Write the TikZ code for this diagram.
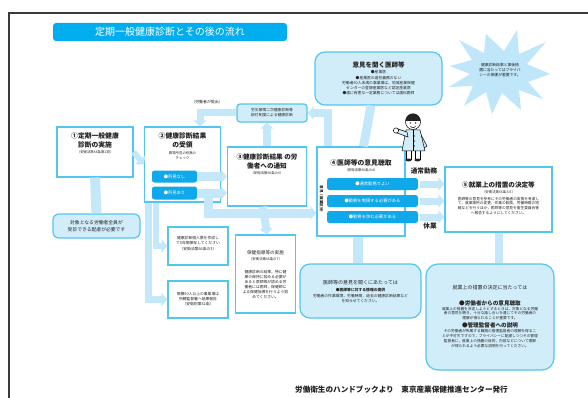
\documentclass[tikz,border=0pt]{standalone}
\usepackage{fontspec}
\setmainfont{Noto Sans CJK JP}
\usetikzlibrary{arrows.meta}
\definecolor{titlec}{HTML}{00AEEF}
\definecolor{btnc}{HTML}{0FA8EA}
\definecolor{edgec}{HTML}{52C5F1}
\definecolor{paleb}{HTML}{D2EDFA}
\definecolor{flowc}{HTML}{C4E8F9}
\definecolor{starc}{HTML}{BFE6F9}
\definecolor{framec}{HTML}{3A3A3A}
\definecolor{inkc}{HTML}{222222}
\begin{document}
\begin{tikzpicture}[x=1pt,y=-1pt,
  text=inkc,
  box/.style={draw=edgec,line width=1.1pt,fill=white,inner sep=0pt},
  pale/.style={draw=edgec,line width=1.2pt,fill=paleb,rounded corners=#1,inner sep=0pt},
  pale/.default=7pt,
  btn/.style={fill=btnc,rounded corners=2.5pt,text=white,inner sep=0pt,
    font=\fontsize{4.3}{5}\selectfont},
  flow/.style={draw=flowc,line width=#1,-{Triangle[width=13pt,length=6pt]}},
  flow/.default=7pt,
  bar/.style={draw=flowc,line width=#1},
  bar/.default=8pt,
  head/.style={font=\bfseries\fontsize{6.8}{8.8}\selectfont,align=center,inner sep=0pt},
  law/.style={font=\fontsize{3.4}{4.4}\selectfont,align=center,inner sep=0pt},
  small/.style={font=\fontsize{3.8}{5.1}\selectfont,align=center,inner sep=0pt},
  mid/.style={font=\fontsize{5}{6}\selectfont,align=center,inner sep=0pt},
  tag/.style={font=\bfseries\fontsize{6.6}{8}\selectfont,inner sep=0pt},
]
\useasboundingbox (0,0) rectangle (588,398);

% page frame
\draw[framec,line width=1.6pt] (9,402) -- (9,13) -- (592,13);

% title bar
\node[fill=titlec,rounded corners=3pt,minimum width=234,minimum height=18,inner sep=0pt,
  text=white,font=\fontsize{10}{12}\selectfont] (title) at (170,32) {定期一般健康診断とその後の流れ};

% privacy burst: irregular spikes round an ellipse
\fill[starc] (550,74) -- (527,64) -- (546,42) -- (519,54) -- (517,30) -- (504,51)
  -- (486,34) -- (484,53) -- (459,40) -- (472,60) -- (450,66) -- (470,74)
  -- (449,87) -- (473,86) -- (464,106) -- (486,92) -- (492,114) -- (502,93)
  -- (521,110) -- (519,90) -- (543,99) -- (528,82) -- cycle;
\node[small] (burst) at (500,70) {健康診断結果と事後措\\置に当たってはプライバ\\シーの保護が重要です。};

% boxes
\node[box,minimum width=76,minimum height=50] (b1) at (95,152) {};
\node[pale=6pt,minimum width=87,minimum height=24] (note) at (96.5,226) {};
\node[box,minimum width=76,minimum height=75] (b2) at (182.5,164.5) {};
\node[box,minimum width=79,minimum height=59] (b3) at (267,176.5) {};
\node[box,minimum width=88,minimum height=89] (b4) at (361,191.5) {};
\node[box,minimum width=107,minimum height=65] (b5) at (498.5,199.5) {};
\node[pale=3pt,minimum width=70,minimum height=18] (rosai) at (272,113) {};
\node[pale=10pt,minimum width=127,minimum height=53] (iken) at (378.5,78.5) {};
\node[box,minimum width=60,minimum height=38] (kojin) at (198,246) {};
\node[box,minimum width=60,minimum height=37] (kibo) at (198,299.5) {};
\node[box,minimum width=60,minimum height=78] (hoken) at (265.5,274) {};
\node[pale=10pt,minimum width=121,minimum height=54] (ishi) at (360.5,291) {};
\node[pale=12pt,minimum width=128,minimum height=106] (big) at (490,317) {};

% result buttons
\node[btn,minimum width=45,minimum height=12] (n1) at (174.5,176.5) {●所見なし};
\node[btn,minimum width=45,minimum height=13] (n2) at (174.5,193) {●所見あり};
% opinion buttons
\node[btn,minimum width=91,minimum height=12] (c1) at (372.5,184) {●通常勤務でよい};
\node[btn,minimum width=91,minimum height=12] (c2) at (372.5,201) {●勤務を制限する必要がある};
\node[btn,minimum width=91,minimum height=12] (c3) at (372.5,217) {●勤務を休む必要がある};

% flow bars
\coordinate (turnA) at (208,213);
\draw[flow=6pt] (b1.east) -- (b2.west);
\draw[bar=10pt] (b1.south) -- (note.north);
\draw[flow=9pt] (n1.east) -- (n1.east -| b3.west);
\draw[flow=9pt] (n2.east) -- (n2.east -| b3.west);
\draw[flow=9pt] (n2.east) -| (turnA) -- (turnA -| b4.west);
\draw[flow=6pt] ([xshift=-26.5pt]b2.south) |- (kojin.west);
\draw[flow=7pt] ([xshift=-34pt]b2.south) |- (kibo.west);
\draw[flow=8pt] (b3.north) -- (b3.north |- rosai.south);
\draw[flow=7pt] (rosai.west) -| ([xshift=17.5pt]b2.north);
\draw[flow=8pt] ([xshift=-33pt]b4.north) |- (rosai.east);
\draw[bar=9pt] ([xshift=-7.5pt]iken.south) -- ([xshift=2.5pt]b4.north);
\draw[bar=10pt] ([xshift=-3pt]b4.south) -- ([xshift=-2.5pt]ishi.north);
\draw[flow=8pt] ([xshift=-4pt]b3.south) -- ([xshift=1.5pt]hoken.north);
\draw[flow=7pt] ([xshift=2pt]c1.east) -- (c1.east -| b5.west);
\draw[flow=7pt] ([xshift=2pt]c2.east) -- (c2.east -| b5.west);
\draw[flow=7pt] ([xshift=2pt]c3.east) -- (c3.east -| b5.west);
\draw[bar=8pt] (b5.south) -- (b5.south |- big.north);

% texts
\node[head] (b1t) at (95,140.5) {①定期一般健康\\診断の実施};
\node[law] (b1l) at (95,152) {（安衛法第66条第1項）};
\node[mid,font=\fontsize{4.8}{6.6}\selectfont] (notet) at (96.5,226) {対象となる労働者全員が\\受診できる配慮が必要です};

\node[head] (b2t) at (182.5,140.5) {②健康診断結果\\の受領};
\node[law] (b2l) at (182.5,155.5) {異常所見の有無の\\チェック};

\node[head,font=\bfseries\fontsize{6.6}{9}\selectfont] (b3t) at (267,161.5) {③健康診断結果 の労\\働者への通知};
\node[law] (b3l) at (267,173) {（安衛法第66条の6）};

\node[head] (b4t) at (361,163) {④医師等の意見聴取};
\node[law] (b4l) at (361,170) {（安衛法第66条の4）};
\node[law,font=\bfseries\fontsize{3.6}{4.4}\selectfont,rotate=-90] (b4v) at (321.5,200) {意見（就業区分）};

\node[small] (rosait) at (272,113) {労災保険二次健康診断等\\給付制度による健康診断};
\node[law,font=\fontsize{3.9}{4.4}\selectfont] (teishutsu) at (207,102.5) {（労働者が提出）};

\node[head,font=\bfseries\fontsize{6.5}{8}\selectfont] (ikent) at (378.5,65) {意見を聞く医師等};
\node[small,font=\fontsize{3.8}{5.25}\selectfont] (ikenl) at (378.5,83) {●産業医\\●産業医の選任義務のない\\労働者50人未満の事業場は，地域産業保健\\センターの登録産業医など認定産業医\\●歯に有害な一定業務については歯科医師};

\node[small] (kojint) at (198,243.5) {健康診断個人票を作成し\\て5年間保存してください\\（安衛法第66条の3）};
\node[small] (kibot) at (198,299) {規模50人以上の事業場は\\所轄監督署へ結果報告\\（安衛則第52条）};

\node[mid,font=\fontsize{4.6}{6}\selectfont] (hokent) at (265.5,253) {保健指導等の実施};
\node[law] (hokenl) at (265.5,259.5) {（安衛法第66条の7）};
\node[small,font=\fontsize{3.8}{5}\selectfont] (hokenp) at (265.5,284.5) {健康診断の結果，特に健\\康の保持に努める必要が\\あると医師等が認める労\\働者には医師，保健師に\\よる保健指導を行うよう努\\めてください。};

\node[head,font=\bfseries\fontsize{6.6}{8}\selectfont] (b5t) at (498.5,185) {⑤就業上の措置の決定等};
\node[law] (b5l) at (498.5,192) {（安衛法第66条の5）};
\node[small,font=\fontsize{3.7}{4.9}\selectfont] (b5p) at (498.5,206) {医師等の意見を参考にその労働者の実情を考慮し\\て，就業場所の変更，作業の転換，労働時間の短\\縮などを行うほか，医師等の意見を衛生委員会等\\へ報告するようにしてください。};

\node[tag] (tsujo) at (424,171) {通常勤務};
\node[tag] (kyugyo) at (430,226) {休業};

\node[mid] (ishit) at (360.5,283) {医師等の意見を聞くにあたっては};
\node[small,font=\bfseries\fontsize{3.8}{5}\selectfont] (ishib) at (360.5,290) {●医師等に対する情報の提供};
\node[small] (iship) at (360.5,298.5) {労働者の作業環境，労働時間，過去の健康診断結果など\\を知らせてください。};

\node[mid] (bigt) at (490,288) {就業上の措置の決定に当たっては};
\node[mid,font=\bfseries\fontsize{5.6}{7}\selectfont] (bigh1) at (490,303) {●労働者からの意見聴取};
\node[small,font=\fontsize{3.7}{4.9}\selectfont] (bigp1) at (490,313.5) {就業上の措置を決定しようとするときは，対象となる労働\\者の意見を聴き，十分な話し合いを通じてその労働者の\\理解が得られることが重要です。};
\node[mid,font=\bfseries\fontsize{5.6}{7}\selectfont] (bigh2) at (490,325) {●管理監督者への説明};
\node[small,font=\fontsize{3.7}{5}\selectfont] (bigp2) at (490,339) {その労働者が所属する職場の管理監督者の理解を得るこ\\とが不可欠ですので，プライバシーに配慮しつつその管理\\監督者に，就業上の措置の目的，内容などについて理解\\が得られるよう必要な説明を行ってください。};

\node[font=\bfseries\fontsize{7.6}{9}\selectfont,inner sep=0pt] (footer) at (401.5,390) {労働衛生のハンドブックより　東京産業保健推進センター発行};

% doctor figure
\begin{scope}[shift={(413,122)},line width=0.5pt]
  \draw[fill=white] (-7,26) rectangle (-2,37);
  \draw[fill=white] (2,26) rectangle (7,37);
  \fill[inkc] (-4.5,38) ellipse (3.2 and 1.4);
  \fill[inkc] (4.5,38) ellipse (3.2 and 1.4);
  \draw[fill=paleb] (6,9) -- (14,24) -- (11,26) -- (5,15) -- cycle;
  \draw[fill=paleb] (-7,8) -- (7,8) -- (12,29) -- (-11,29) -- cycle;
  \draw[fill=paleb] (-6,10) -- (-15,7) -- (-16,11) -- (-5,15) -- cycle;
  \draw[fill=white] (-17,8.5) circle (2.6);
  \draw (0,8) -- (0,29);
  \fill[inkc] (1.5,14) circle (0.7) (1.5,19) circle (0.7) (1.5,24) circle (0.7);
  \draw[fill=white] (0,0) circle (7.5);
  \fill[inkc] (-7.6,-1) arc (180:360:7.6) -- cycle;
  \fill[inkc] (-2.6,1) circle (0.8) (2.6,1) circle (0.8);
  \draw (-2.5,4) arc (180:0:2.5 and 1.5);
\end{scope}
\end{tikzpicture}
\end{document}
